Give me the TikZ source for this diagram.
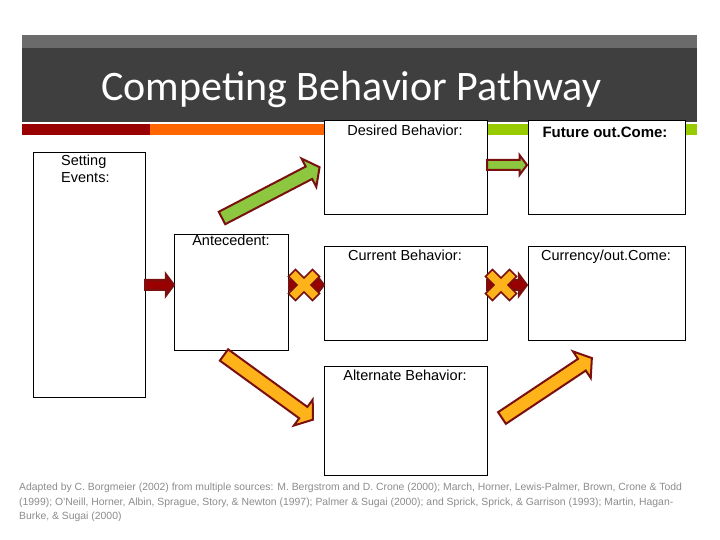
\documentclass[tikz,border=0pt]{standalone}
\usepackage{fontspec}
\setmainfont{Liberation Sans}
\newfontfamily\titlefont{Carlito}
\definecolor{hdrlight}{HTML}{6B6B6B}
\definecolor{hdrdark}{HTML}{3F3F3F}
\definecolor{stripred}{HTML}{990000}
\definecolor{striporange}{HTML}{FF6600}
\definecolor{stripgreen}{HTML}{99CC00}
\definecolor{arrgreen}{HTML}{8DC63F}
\definecolor{arrorange}{HTML}{FFB31A}
\definecolor{arredge}{HTML}{7A1010}
\definecolor{foot}{HTML}{8C8C8C}
\newcommand\blockarr[7]{%
  \begin{scope}[shift={(#1,#2)},rotate=#3]
    \filldraw[fill=#7,draw=arredge,line width=2pt,line join=miter]
      (0,-#5)--({#4-0.75*#6},-#5)--({#4-0.75*#6},-#6)--(#4,0)--({#4-0.75*#6},#6)--({#4-0.75*#6},#5)--(0,#5)--cycle;
  \end{scope}}
\newcommand\crossmark[2]{%
  \begin{scope}[shift={(#1,#2)},rotate=45]
    \filldraw[fill=arrorange,draw=arredge,line width=1.6pt]
      (-5,17)--(5,17)--(5,5)--(17,5)--(17,-5)--(5,-5)--(5,-17)--(-5,-17)--(-5,-5)--(-17,-5)--(-17,5)--(-5,5)--cycle;
  \end{scope}}
\begin{document}
\begin{tikzpicture}[x=1pt,y=1pt,
  box/.style={draw=black,line width=0.8pt,fill=white,anchor=north west,inner sep=0pt},
  lbl/.style={anchor=north,font=\fontsize{14.5}{17}\selectfont,inner sep=0pt}]
\useasboundingbox (0,0) rectangle (720,540);
\fill[white] (0,0) rectangle (720,540);
% header
\fill[hdrlight] (22,492) rectangle (697,505);
\fill[hdrdark] (22,418) rectangle (697,492);
\fill[stripred] (22,405) rectangle (150,416);
\fill[striporange] (150,405) rectangle (377,416);
\fill[stripgreen] (377,405) rectangle (697,416);
\node[text=white,font=\titlefont\fontsize{42}{46}\selectfont,anchor=west,inner sep=0pt] (title) at (101,450) {Competing Behavior Pathway};
% boxes
\node[box,minimum width=112pt,minimum height=245pt] (setting) at (33,388) {};
\node[box,minimum width=114pt,minimum height=116pt] (ante) at (174,306) {};
\node[box,minimum width=163pt,minimum height=94pt] (desired) at (324,420) {};
\node[box,minimum width=157pt,minimum height=94pt] (future) at (528,420) {};
\node[box,minimum width=163pt,minimum height=94pt] (current) at (324,294) {};
\node[box,minimum width=157pt,minimum height=94pt] (currency) at (528,294) {};
\node[box,minimum width=163pt,minimum height=109pt] (alt) at (324,174) {};
% labels
\node[lbl,anchor=north west,align=left] (tse) at (61,385) {Setting\\Events:};
\node[lbl] (tante) at (231,305) {Antecedent:};
\node[lbl] (tdes) at (405,415) {Desired Behavior:};
\node[lbl,font=\bfseries\fontsize{15}{17}\selectfont] (tfut) at (605,413) {Future out.Come:};
\node[lbl] (tcur) at (405,290) {Current Behavior:};
\node[lbl] (tcurr) at (606,290) {Currency/out.Come:};
\node[lbl] (talt) at (405,170) {Alternate Behavior:};
% arrows
\blockarr{145}{255}{0}{29}{5}{11}{stripred}
\blockarr{289}{255}{0}{35}{5}{11}{stripred}
\blockarr{487}{255}{0}{40}{5}{11}{stripred}
\crossmark{304}{255}
\crossmark{501}{255}
\blockarr{222}{322}{27.5}{110}{7}{16}{arrgreen}
\blockarr{487}{375}{0}{40}{5}{10}{arrgreen}
\blockarr{224}{185}{-36}{110}{7}{16}{arrorange}
\blockarr{502}{122}{33.7}{108}{7}{16}{arrorange}
% footer
\node[anchor=north west,align=left,text=foot,font=\fontsize{10.4}{14.5}\selectfont,inner sep=0pt] (foot) at (19,57)
{Adapted by C. Borgmeier (2002) from multiple sources: M. Bergstrom and D. Crone (2000); March, Horner, Lewis-Palmer, Brown, Crone \& Todd\\(1999); O'Neill, Horner, Albin, Sprague, Story, \& Newton (1997); Palmer \& Sugai (2000); and Sprick, Sprick, \& Garrison (1993); Martin, Hagan-\\Burke, \& Sugai (2000)};
\end{tikzpicture}
\end{document}
